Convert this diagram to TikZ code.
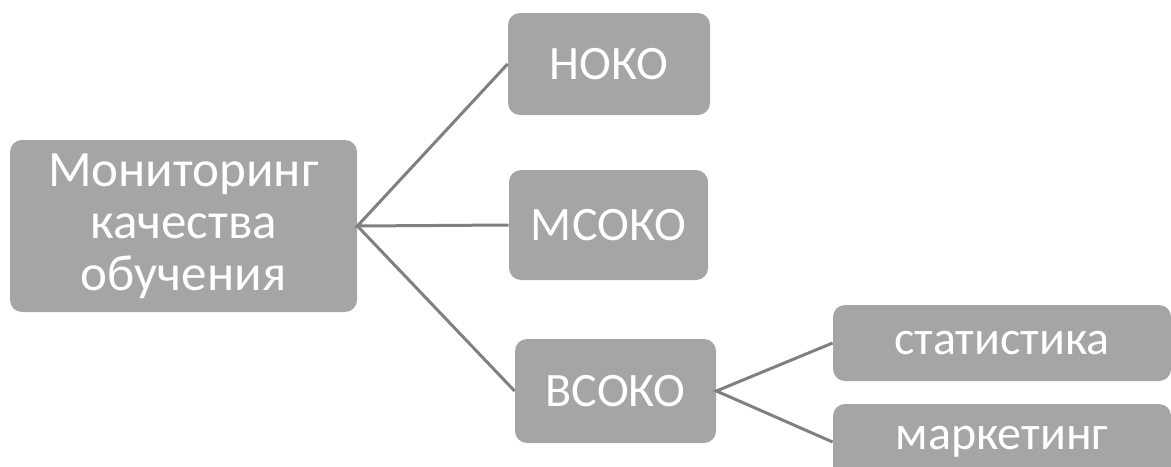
\documentclass[tikz,border=0pt]{standalone}
\usepackage{fontspec}
\setmainfont{Carlito}
\definecolor{boxgray}{HTML}{A5A5A5}
\definecolor{linegray}{HTML}{808080}

\begin{document}
\begin{tikzpicture}[x=0.5pt,y=-0.5pt,
		box/.style={fill=boxgray,rounded corners=6pt,text=white,align=center,inner sep=0pt,font=\fontsize{24}{25}\selectfont},
		link/.style={draw=linegray,line width=1.5pt}]
		\useasboundingbox (0,0) rectangle (1171,466);
		\node[box,minimum width=173.5pt,minimum height=86pt,font=\fontsize{25.5}{26}\selectfont] (monitoring) at (183.5,226) {Мониторинг\\качества\\обучения};
		\node[box,minimum width=101pt,minimum height=51pt] (noko) at (609,64) {НОКО};
		\node[box,minimum width=99.5pt,minimum height=55pt] (msoko) at (608.5,225) {МСОКО};
		\node[box,minimum width=100.5pt,minimum height=52pt] (vsoko) at (615.5,391) {ВСОКО};
		\node[box,minimum width=169pt,minimum height=38pt] (stat) at (1002,343) {статистика};
		\node[box,minimum width=169pt,minimum height=38pt] (market) at (1002,442) {маркетинг};
		
		\draw[link] (noko.west) -- (monitoring.east) -- (msoko.west);
		\draw[link] (monitoring.east) -- (vsoko.west);
		\draw[link] (stat.west) -- (vsoko.east) -- (market.west);
	\end{tikzpicture}
\end{document}
